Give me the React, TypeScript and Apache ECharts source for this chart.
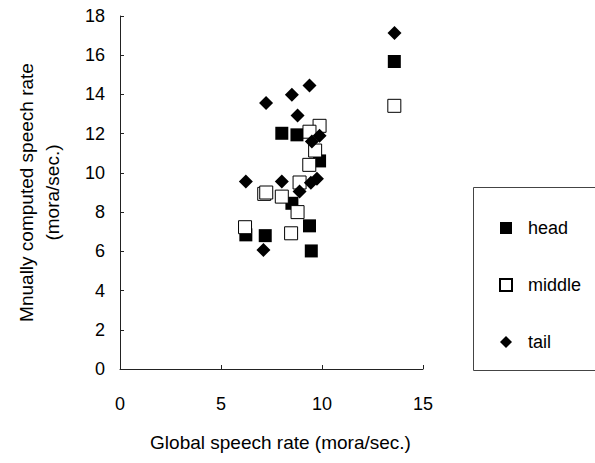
import React, { useEffect, useRef } from "react";
import * as echarts from "echarts";

const seriesNames = ["head", "middle", "tail"];
const xTicks = [0, 5, 10, 15];
const yTicks = [0, 2, 4, 6, 8, 10, 12, 14, 16, 18];

const headData: number[][] = [
  [8.01, 12.02], [8.76, 11.94], [9.88, 10.61], [8.51, 8.45], [9.38, 7.3],
  [6.23, 6.84], [7.19, 6.8], [9.47, 6.02], [13.58, 15.68],
];
const middleData: number[][] = [
  [9.88, 12.4], [9.38, 12.1], [9.66, 11.14], [9.37, 10.41], [8.89, 9.51],
  [7.14, 8.93], [7.24, 9.0], [8.01, 8.79], [8.79, 8.0], [6.19, 7.23],
  [8.47, 6.92], [13.58, 13.42],
];
const tailData: number[][] = [
  [7.23, 13.56], [8.51, 13.98], [9.38, 14.45], [8.79, 12.92], [9.88, 11.89],
  [9.5, 11.6], [6.23, 9.56], [8.01, 9.56], [8.89, 9.05], [9.45, 9.5],
  [9.75, 9.7], [7.1, 6.07], [13.59, 17.13],
];

const FONT = "'Liberation Sans', Arial, sans-serif";

export default function App() {
  const ref = useRef<HTMLDivElement>(null);
  useEffect(() => {
    if (!ref.current) return;
    const chart = echarts.init(ref.current, undefined, { renderer: "svg" });
    chart.setOption({
      animation: false,
      backgroundColor: "#fff",
      textStyle: { fontFamily: FONT, color: "#000" },
      grid: { left: 120, right: 172, top: 16, bottom: 94 },
      xAxis: {
        type: "value",
        min: xTicks[0],
        max: xTicks[xTicks.length - 1],
        interval: 5,
        splitLine: { show: false },
        axisLine: { lineStyle: { color: "#222", width: 1 } },
        axisTick: { inside: true, length: 4, lineStyle: { color: "#222" } },
        axisLabel: { fontSize: 18, color: "#000", margin: 26, fontFamily: FONT },
        name: "Global speech rate (mora/sec.)",
        nameLocation: "middle",
        nameGap: 64,
        nameTextStyle: { fontSize: 19, color: "#000", fontFamily: FONT, padding: [0, 0, 0, 18] },
      },
      yAxis: {
        type: "value",
        min: yTicks[0],
        max: yTicks[yTicks.length - 1],
        interval: 2,
        splitLine: { show: false },
        axisLine: { show: true, lineStyle: { color: "#222", width: 1 } },
        axisTick: { show: true, inside: true, length: 4, lineStyle: { color: "#222" } },
        axisLabel: { fontSize: 18, color: "#000", margin: 15, fontFamily: FONT },
        name: "Mnually computed speech rate\n(mora/sec.)",
        nameLocation: "middle",
        nameGap: 55,
        nameRotate: 90,
        nameTextStyle: { fontSize: 19, lineHeight: 26, color: "#000", fontFamily: FONT },
      },
      legend: {
        orient: "vertical",
        left: 494,
        top: 213,
        itemWidth: 12,
        itemHeight: 12,
        itemGap: 37,
        textStyle: { fontSize: 18, lineHeight: 20, color: "#000", fontFamily: FONT, padding: [0, 0, 0, 11] },
        data: seriesNames,
      },
      graphic: [
        {
          type: "rect",
          shape: { x: 473.5, y: 187.5, width: 200, height: 183 },
          style: { fill: "none", stroke: "#444", lineWidth: 1 },
          silent: true,
        },
      ],
      series: [
        {
          name: seriesNames[0],
          type: "scatter",
          symbol: "rect",
          symbolSize: 13,
          data: headData,
          itemStyle: { color: "#000", opacity: 1 },
        },
        {
          name: seriesNames[1],
          type: "scatter",
          symbol: "rect",
          symbolSize: 13,
          data: middleData,
          itemStyle: { color: "#fff", borderColor: "#000", borderWidth: 1, opacity: 1 },
        },
        {
          name: seriesNames[2],
          type: "scatter",
          symbol: "diamond",
          symbolSize: 14,
          data: tailData,
          itemStyle: { color: "#000", opacity: 1 },
        },
      ],
    });
    return () => chart.dispose();
  }, []);
  return (
    <div
      ref={ref}
      style={{ position: "fixed", left: 0, top: 0, width: 595, height: 463, background: "#fff" }}
    />
  );
}
